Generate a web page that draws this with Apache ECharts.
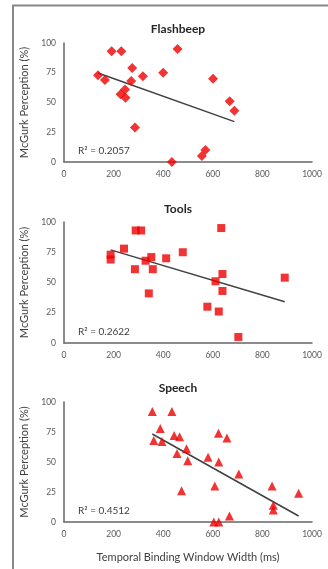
<!DOCTYPE html>
<html>
<head>
<meta charset="utf-8">
<script src="https://cdn.jsdelivr.net/npm/echarts@6/dist/echarts.min.js"></script>
<style>
html,body{margin:0;padding:0;background:#fff;}
#main{width:328px;height:569px;}
</style>
</head>
<body>
<div id="main"></div>
<script>
// data
var panelNames = ['Flashbeep', 'Tools', 'Speech'];
var rSquared = ['R\u00b2 = 0.2057', 'R\u00b2 = 0.2622', 'R\u00b2 = 0.4512'];
var xTicks = [0, 200, 400, 600, 800, 1000];
var yTicks = [0, 25, 50, 75, 100];

var flashbeepX = [137, 165, 192, 231, 228, 246, 248, 275, 271, 286, 318, 400, 458, 435, 556, 570, 601, 668, 687];
var flashbeepY = [73, 69, 93, 93, 57, 61, 54, 79, 68, 29, 72, 75, 95, 0, 5, 10, 70, 51, 43];

var toolsX = [188, 188, 242, 286, 289, 311, 329, 352, 358, 342, 412, 479, 578, 611, 624, 634, 639, 639, 703, 890];
var toolsY = [73, 69, 78, 61, 93, 93, 68, 71, 61, 41, 70, 75, 30, 51, 26, 95, 57, 43, 5, 54];

var speechX = [356, 435, 362, 388, 395, 444, 466, 456, 494, 499, 474, 581, 623, 624, 657, 608, 604, 624, 667, 705, 839, 844, 844, 946];
var speechY = [92, 92, 68, 78, 67, 72, 71, 57, 61, 51, 26, 54, 74, 50, 70, 30, 0, 0, 5, 40, 30, 14, 10, 24];

var symbols = ['diamond', 'rect', 'triangle'];
var symbolSizes = [10, 8, 9];

//最小二乘趋势线
function trend(xs, ys) {
    var n = xs.length, sx = 0, sy = 0, sxx = 0, sxy = 0;
    for (var i = 0; i < n; i++) {
        sx += xs[i]; sy += ys[i];
        sxx += xs[i] * xs[i]; sxy += xs[i] * ys[i];
    }
    var b = (n * sxy - sx * sy) / (n * sxx - sx * sx);
    var a = (sy - b * sx) / n;
    var lo = Math.min.apply(null, xs), hi = Math.max.apply(null, xs);
    return [[lo, a + b * lo], [hi, a + b * hi]];
}

function pairs(xs, ys) {
    return xs.map(function (x, i) { return [x, ys[i]]; });
}

var allX = [flashbeepX, toolsX, speechX];
var allY = [flashbeepY, toolsY, speechY];
var gridTops = [43, 222, 402];
var gridHeights = [119, 121, 120];
var titleTops = [18, 198, 377];
var font = 'Lato, "Open Sans", sans-serif';

var grids = [], xAxes = [], yAxes = [], titles = [], series = [];
for (var k = 0; k < 3; k++) {
    grids.push({ left: 64, right: 16, top: gridTops[k], height: gridHeights[k] });
    xAxes.push({
        gridIndex: k, type: 'value', min: xTicks[0], max: xTicks[xTicks.length - 1], interval: 200,
        axisLine: { lineStyle: { color: '#666', width: 1.5 } },
        axisTick: { show: false }, splitLine: { show: false },
        axisLabel: { color: '#595959', fontSize: 8.5, fontFamily: font, margin: 8,
            formatter: function (v) { return String(v); } },
        name: k === 2 ? 'Temporal Binding Window Width (ms)' : '',
        nameLocation: 'middle', nameGap: 30,
        nameTextStyle: { color: '#404040', fontSize: 11, fontFamily: font }
    });
    yAxes.push({
        gridIndex: k, type: 'value', min: yTicks[0], max: yTicks[yTicks.length - 1], interval: 25,
        axisLine: { show: true, lineStyle: { color: '#666', width: 1.5 } },
        axisTick: { show: false }, splitLine: { show: false },
        axisLabel: { color: '#595959', fontSize: 8.5, fontFamily: font, margin: 8 },
        name: 'McGurk Perception (%)', nameLocation: 'middle', nameGap: 33,
        nameTextStyle: { color: '#404040', fontSize: 11, fontFamily: font }
    });
    titles.push({
        text: panelNames[k], left: 173, top: titleTops[k], textAlign: 'center',
        textStyle: { color: '#262626', fontSize: 12, fontWeight: 'bold', fontFamily: font }
    });
    titles.push({
        text: rSquared[k], left: 73, top: gridTops[k] + gridHeights[k] - 21,
        textStyle: { color: '#404040', fontSize: 10, fontWeight: 'normal', fontFamily: font }
    });
    series.push({
        type: 'scatter', xAxisIndex: k, yAxisIndex: k,
        symbol: symbols[k], symbolSize: symbolSizes[k],
        itemStyle: { color: '#ee0000' },
        data: pairs(allX[k], allY[k]),
        z: 3
    });
    series.push({
        type: 'line', xAxisIndex: k, yAxisIndex: k,
        showSymbol: false, silent: true,
        lineStyle: { color: '#404040', width: 1.5 },
        data: trend(allX[k], allY[k]),
        z: 2
    });
}

var myChart = echarts.init(document.getElementById('main'));
var option = {
    backgroundColor: '#fff',
    animation: false,
    title: titles,
    grid: grids,
    xAxis: xAxes,
    yAxis: yAxes,
    series: series,
    graphic: [{
        type: 'polyline',
        shape: { points: [[13, 569], [13, 5.5], [328, 5.5]] },
        style: { stroke: '#888', lineWidth: 2, fill: null }
    }]
};
myChart.setOption(option, true);
window.onresize = myChart.resize;
</script>
</body>
</html>
